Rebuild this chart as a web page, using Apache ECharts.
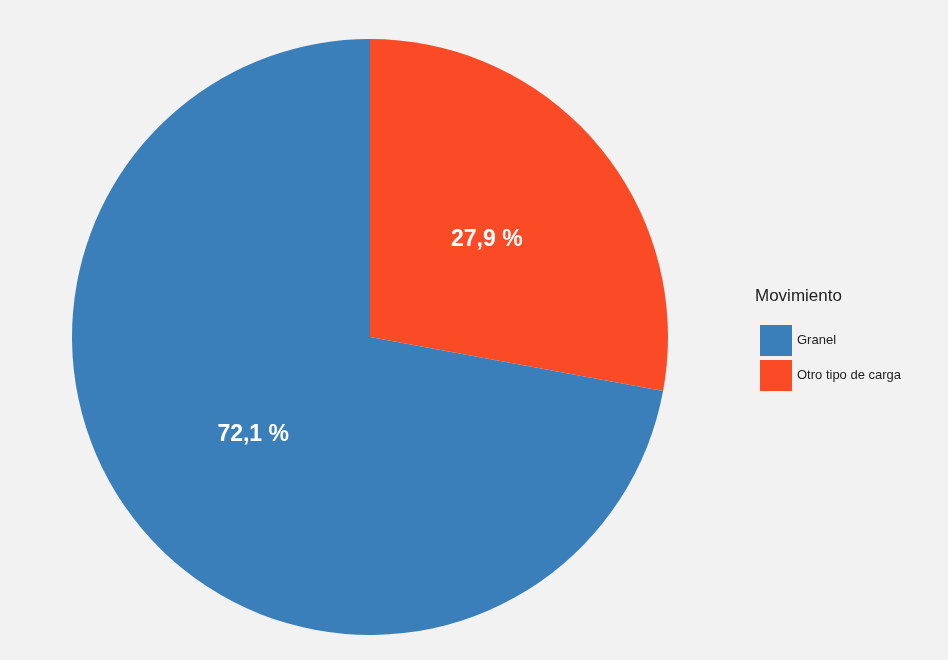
<!DOCTYPE html>
<html><head><meta charset="utf-8">
<script src="https://cdn.jsdelivr.net/npm/echarts@6/dist/echarts.min.js"></script>
<style>html,body{margin:0;padding:0;background:#f2f2f2}#c{width:948px;height:660px}</style>
</head><body><div id="c"></div>
<script>
const categories = ["Otro tipo de carga", "Granel"];
const values = [27.9, 72.1];
const legendOrder = ["Granel", "Otro tipo de carga"];
const colors = {"Granel": "#3a7fba", "Otro tipo de carga": "#fb4b26"};
const chart = echarts.init(document.getElementById('c'));
chart.setOption({
  backgroundColor: '#f2f2f2',
  animation: false,
  graphic: [{type: 'text', left: 755, top: 288, style: {text: 'Movimiento', fontSize: 17, fill: '#222', fontFamily: 'Liberation Sans'}}],
  legend: {
    data: legendOrder, orient: 'vertical', left: 755, top: 320,
    itemWidth: 32, itemHeight: 31, itemGap: 4, icon: 'rect',
    textStyle: {fontSize: 13, color: '#222', fontFamily: 'Liberation Sans'}
  },
  series: [{
    type: 'pie', center: [370, 337], radius: 298, startAngle: 90, clockwise: true,
    data: categories.map((c, i) => ({name: c, value: values[i], itemStyle: {color: colors[c]}})),
    label: {position: 'inside', formatter: p => p.value.toFixed(1).replace('.', ',') + ' %',
      color: '#fff', fontSize: 23, fontWeight: 'bold', fontFamily: 'Liberation Sans'},
    labelLine: {show: false}, emphasis: {disabled: true}
  }]
});
</script></body></html>
